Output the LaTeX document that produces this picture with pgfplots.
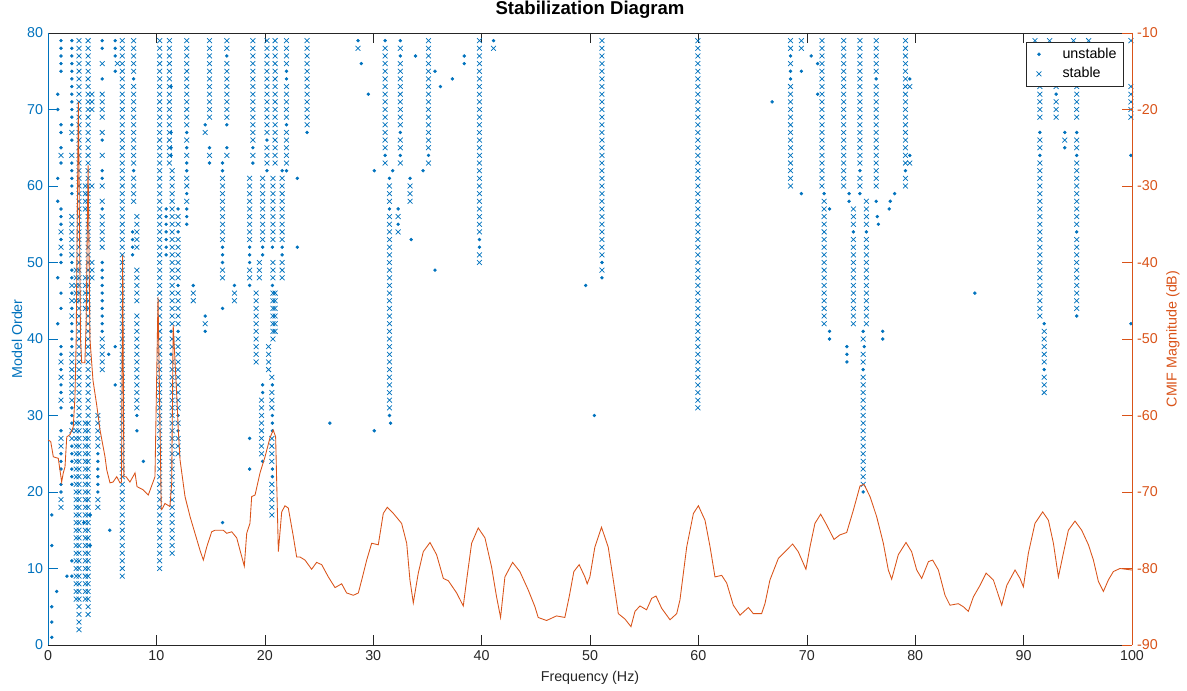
\documentclass[border=0pt]{standalone}
\usepackage{fontspec}
\setmainfont{Liberation Sans}
\usepackage{pgfplots}
\pgfplotsset{compat=1.18}
\definecolor{mblue}{RGB}{0,114,189}
\definecolor{morange}{RGB}{217,83,25}
\definecolor{mgray}{RGB}{38,38,38}
\pgfplotsset{mylegimg/.style={legend image code/.code={\path (-3.7pt,0pt) (16.3pt,0pt); \draw[mark repeat=2,mark phase=2,##1] plot coordinates {(0pt,0pt)(4pt,0pt)(8pt,0pt)};}}}
\begin{document}
\begin{tikzpicture}[font=\fontsize{10}{12}\selectfont]
\useasboundingbox (-33.6pt,-32.2pt) rectangle (797.3pt,451.5pt);
\begin{axis}[
  scale only axis, width=758.8pt, height=428.4pt,
  xmin=0, xmax=100, ymin=0, ymax=80,
  axis x line*=box, axis y line*=left,
  x axis line style={mgray}, y axis line style={mblue},
  xtick={0,10,...,100}, ytick={0,10,...,80},
  tick align=inside, major tick length=7pt,
  tick style={mgray},
  every y tick/.append style={mblue},
  /pgf/number format/assume math mode=true,
  xticklabel style={mgray, font=\fontsize{10}{12}\selectfont},
  yticklabel style={mblue, font=\fontsize{10}{12}\selectfont},
  xlabel={Frequency (Hz)},
  xlabel style={mgray, at={(axis description cs:0.5,0)}, anchor=center, yshift=-23pt},
  ylabel={Model Order},
  ylabel style={mblue, at={(axis description cs:0,0.5)}, anchor=center, yshift=21.7pt},
  title={Stabilization Diagram},
  title style={at={(axis description cs:0.5,1)}, anchor=center, yshift=10.5pt, font=\bfseries\fontsize{13}{15}\selectfont},
  legend style={at={(0.9926,0.9853)}, anchor=north east, draw=mgray, fill=white, font=\fontsize{10}{12}\selectfont, inner xsep=1pt, inner ysep=2pt, row sep=1pt, nodes={inner xsep=4pt}},
  legend cell align=left,
]
\addplot[only marks, mark=*, mark size=1pt, color=mblue, mylegimg] coordinates {
(0.35,1)(0.35,3)(0.35,5)(0.35,13)(0.35,17)(0.8,7)(1.75,9)
(1.2,20)(1.2,21)(1.2,23)(1.2,24)(1.2,25)(1.2,28)(1.2,31)(1.2,33)(1.2,34)(1.2,36)(1.2,38)(1.2,39)(1.2,44)(1.2,46)(1.2,50)(1.2,51)(1.2,53)(1.2,55)(1.2,56)(1.2,57)(1.2,63)(1.2,65)(1.2,67)(1.2,68)(1.2,75)(1.2,76)(1.2,77)(1.2,78)(1.2,79)
(0.9,42)(0.9,48)(0.9,58)(0.9,61)(0.9,70)(0.9,72)
(2.2,9)(2.2,11)(2.2,21)(2.2,22)(2.2,23)(2.2,24)(2.2,25)(2.2,26)(2.2,29)(2.2,30)(2.2,31)(2.2,39)(2.2,40)(2.2,41)(2.2,42)(2.2,44)(2.2,46)(2.2,48)(2.2,49)(2.2,50)(2.2,59)(2.2,60)(2.2,61)(2.2,62)(2.2,63)(2.2,66)(2.2,68)(2.2,69)(2.2,70)(2.2,71)(2.2,72)(2.2,73)(2.2,74)(2.2,75)(2.2,76)(2.2,77)(2.2,78)(2.2,79)
(3.3,16)(3.9,17)(3.9,13)
(4.6,20)(4.6,21)(4.6,22)(4.6,23)(4.6,24)(4.6,25)
(5.0,41)(5.0,42)(5.0,43)(5.0,44)(5.0,45)(5.0,46)(5.0,47)(5.0,48)(5.0,49)(5.0,50)(5.0,57)(5.0,61)(5.0,62)(5.0,66)(5.0,74)(5.0,78)(5.0,79)
(5.6,38)(5.7,15)(6.2,34)(6.2,39)(6.2,75)(6.2,77)(6.2,78)(6.2,79)
(7.8,51)(7.8,52)(7.8,53)(7.8,54)(7.9,62)(7.9,74)(8.2,28)(8.2,30)(8.8,24)
(10.9,51)(10.9,52)(10.9,53)(10.9,54)(10.9,55)(10.9,56)(10.9,57)
(11.35,38)(11.35,41)(11.35,64)(11.35,65)(11.35,67)(11.35,73)
(12.0,28)(12.0,30)(12.0,41)(12.0,47)(12.0,54)(12.0,57)
(12.8,55)(12.8,56)(12.8,57)(12.8,59)(12.8,62)(12.8,63)(12.8,65)(12.8,67)
(13.4,47)(14.5,41)(14.5,43)(14.5,68)(14.9,63)(14.9,65)
(16.1,16)(16.1,44)(16.1,50)(16.1,51)(16.1,52)(16.1,62)(16.1,63)(16.5,65)(16.5,68)(16.5,77)(17.2,47)
(18.9,63)(18.9,65)(18.6,23)(18.6,27)(18.6,47)(18.6,50)(18.6,51)(18.6,52)
(19.8,24)(19.8,33)(19.8,34)(19.8,51)(19.8,52)(20.2,62)(20.2,66)
(20.7,22)(20.7,23)(20.7,28)(20.7,29)(20.7,30)(20.7,34)(20.7,47)(20.7,52)
(21.6,51)(21.6,52)(21.6,62)(22.0,62)(22.0,68)(22.0,74)(22.0,75)(23.0,52)(23.0,61)(23.9,67)(26.0,29)
(28.6,79)(28.9,76)(29.55,72)(30.1,62)(30.1,28)(31.1,79)(31.1,64)(31.5,61)(31.5,57)(31.5,30)(31.6,29)(31.8,62)(32.5,79)(32.5,77)(32.5,67)(32.5,64)(32.3,57)(32.3,55)(33.4,61)(33.5,53)(33.9,77)(34.6,62)(35.1,64)(35.7,75)(36.2,73)(37.3,74)(38.4,77)(38.4,76)(35.7,49)(39.8,53)(39.8,52)(41.1,79)
(51.1,50)(51.1,48)(49.6,47)(50.4,30)
(66.8,71)(68.5,77)(68.5,75)(68.5,74)(69.5,75)(69.5,59)(70.4,77)(71.0,76)(71.0,72)(71.6,59)(72.1,57)(72.1,41)(72.1,40)(73.9,59)(73.9,58)(74.3,54)(73.7,39)(73.7,38)(73.7,37)(74.9,62)(74.9,59)(75.5,54)(75.2,41)(75.3,39)(75.2,36)(75.2,20)(76.4,74)(76.4,58)(76.5,56)(76.6,55)(77.0,41)(77.0,40)(79.5,74)(79.5,64)(79.1,62)(78.1,59)(77.7,58)(77.6,57)
(85.5,46)
(91.5,67)(91.5,64)(91.9,42)(91.9,36)(93.0,72)(93.8,67)(93.8,65)(94.9,67)(94.9,64)(94.9,54)(94.9,43)(99.9,64)(99.9,42)
};
\addlegendentry{unstable}
\addplot[only marks, mark=x, mark size=2.4pt, color=mblue, mark options={line width=0.5pt}, mylegimg] coordinates {
(1.2,18)(1.2,19)(1.2,26)(1.2,27)(1.2,32)(1.2,35)(1.2,37)(1.2,52)(1.2,54)(1.2,64)
(2.2,27)(2.2,28)(2.2,32)(2.2,33)(2.2,34)(2.2,35)(2.2,36)(2.2,37)(2.2,38)(2.2,43)(2.2,45)(2.2,47)(2.2,51)(2.2,52)(2.2,53)(2.2,54)(2.2,55)(2.2,56)(2.2,64)(2.2,67)
(2.86,2)(2.86,3)(2.86,4)(2.86,5)(2.86,6)(2.86,7)(2.86,8)(2.86,9)(2.86,10)(2.86,11)(2.86,12)(2.86,13)(2.86,14)(2.86,15)(2.86,16)(2.86,17)(2.86,18)(2.86,19)(2.86,20)(2.86,21)(2.86,22)(2.86,23)(2.86,24)(2.86,25)(2.86,26)(2.86,27)(2.86,28)(2.86,29)(2.86,30)(2.86,31)(2.86,32)(2.86,33)(2.86,34)(2.86,35)(2.86,36)(2.86,37)(2.86,38)(2.86,39)(2.86,40)(2.86,41)(2.86,42)(2.86,43)(2.86,44)(2.86,45)(2.86,46)(2.86,47)(2.86,48)(2.86,49)(2.86,50)(2.86,51)(2.86,52)(2.86,53)(2.86,54)(2.86,55)(2.86,56)(2.86,57)(2.86,58)(2.86,59)(2.86,60)(2.86,61)(2.86,62)(2.86,63)(2.86,64)(2.86,65)(2.86,66)(2.86,67)(2.86,68)(2.86,69)(2.86,70)(2.86,71)(2.86,72)(2.86,73)(2.86,74)(2.86,75)(2.86,76)(2.86,77)(2.86,78)(2.86,79)
(2.6,6)(2.6,7)(2.6,8)(2.6,9)(2.6,10)(2.6,11)(2.6,12)(2.6,13)(2.6,14)(2.6,15)(2.6,16)(2.6,17)(2.6,18)(2.6,19)(2.6,20)(2.6,21)(2.6,22)(2.6,23)(2.6,24)(2.6,25)(2.6,26)(2.6,27)(2.6,28)(2.6,29)(2.6,45)(2.6,46)(2.6,47)(2.6,48)(2.6,49)
(3.7,4)(3.7,5)(3.7,6)(3.7,7)(3.7,8)(3.7,9)(3.7,10)(3.7,11)(3.7,12)(3.7,13)(3.7,14)(3.7,15)(3.7,16)(3.7,17)(3.7,18)(3.7,19)(3.7,20)(3.7,21)(3.7,22)(3.7,23)(3.7,24)(3.7,25)(3.7,26)(3.7,27)(3.7,28)(3.7,29)(3.7,30)(3.7,31)(3.7,32)(3.7,33)(3.7,34)(3.7,35)(3.7,36)(3.7,37)(3.7,38)(3.7,39)(3.7,40)(3.7,41)(3.7,42)(3.7,43)(3.7,44)(3.7,45)(3.7,46)(3.7,47)(3.7,48)(3.7,49)(3.7,50)(3.7,51)(3.7,52)(3.7,53)(3.7,54)(3.7,55)(3.7,56)(3.7,57)(3.7,58)(3.7,59)(3.7,60)(3.7,61)(3.7,62)(3.7,63)(3.7,64)(3.7,65)(3.7,66)(3.7,67)(3.7,68)(3.7,69)(3.7,70)(3.7,71)(3.7,72)(3.7,73)(3.7,74)(3.7,75)(3.7,76)(3.7,77)(3.7,78)(3.7,79)
(3.45,6)(3.45,7)(3.45,8)(3.45,9)(3.45,10)(3.45,11)(3.45,12)(3.45,13)(3.45,14)(3.45,15)(3.45,16)(3.45,17)(3.45,18)(3.45,19)(3.45,20)(3.45,21)(3.45,22)(3.45,23)(3.45,24)(3.45,25)(3.45,26)(3.45,27)(3.45,28)(3.45,29)(3.45,44)(3.45,45)(3.45,46)(3.45,47)(3.45,48)(3.45,57)(3.45,58)(3.45,59)(3.45,60)
(4.05,48)(4.05,49)(4.05,50)(4.05,60)(4.05,70)(4.05,71)(4.05,72)
(5.0,36)(5.0,37)(5.0,38)(5.0,39)(5.0,40)(5.0,52)(5.0,53)(5.0,54)(5.0,55)(5.0,56)(5.0,58)(5.0,60)(5.0,64)(5.0,67)(5.0,69)(5.0,70)(5.0,71)(5.0,72)(5.0,76)
(4.6,18)(4.6,19)(4.6,26)(4.6,27)(4.6,28)(4.6,29)(4.6,30)
(6.85,9)(6.85,10)(6.85,11)(6.85,12)(6.85,13)(6.85,14)(6.85,15)(6.85,16)(6.85,17)(6.85,18)(6.85,19)(6.85,20)(6.85,21)(6.85,22)(6.85,23)(6.85,24)(6.85,25)(6.85,26)(6.85,27)(6.85,28)(6.85,29)(6.85,30)(6.85,31)(6.85,32)(6.85,33)(6.85,34)(6.85,35)(6.85,36)(6.85,37)(6.85,38)(6.85,39)(6.85,40)(6.85,41)(6.85,42)(6.85,43)(6.85,44)(6.85,45)(6.85,46)(6.85,47)(6.85,48)(6.85,49)(6.85,50)(6.85,51)(6.85,52)(6.85,53)(6.85,54)(6.85,55)(6.85,56)(6.85,57)(6.85,58)(6.85,59)(6.85,60)(6.85,61)(6.85,62)(6.85,63)(6.85,64)(6.85,65)(6.85,66)(6.85,67)(6.85,68)(6.85,69)(6.85,70)(6.85,71)(6.85,72)(6.85,73)(6.85,74)(6.85,75)(6.85,76)(6.85,77)(6.85,78)(6.85,79)
(6.4,76)
(7.9,58)(7.9,59)(7.9,60)(7.9,61)(7.9,63)(7.9,64)(7.9,65)(7.9,66)(7.9,67)(7.9,68)(7.9,69)(7.9,70)(7.9,71)(7.9,72)(7.9,73)(7.9,75)(7.9,76)(7.9,77)(7.9,78)(7.9,79)
(8.2,31)(8.2,32)(8.2,33)(8.2,34)(8.2,35)(8.2,36)(8.2,37)(8.2,38)(8.2,39)(8.2,40)(8.2,41)(8.2,42)(8.2,43)(8.2,45)(8.2,46)(8.2,47)(8.2,48)(8.2,49)(8.2,52)(8.2,53)(8.2,54)(8.2,55)(8.2,56)
(10.3,10)(10.3,11)(10.3,12)(10.3,13)(10.3,14)(10.3,15)(10.3,16)(10.3,17)(10.3,18)(10.3,19)(10.3,20)(10.3,21)(10.3,22)(10.3,23)(10.3,24)(10.3,25)(10.3,26)(10.3,27)(10.3,28)(10.3,29)(10.3,30)(10.3,31)(10.3,32)(10.3,33)(10.3,34)(10.3,35)(10.3,36)(10.3,37)(10.3,38)(10.3,39)(10.3,40)(10.3,41)(10.3,42)(10.3,43)(10.3,44)(10.3,45)(10.3,46)(10.3,47)(10.3,48)(10.3,49)(10.3,50)(10.3,51)(10.3,52)(10.3,53)(10.3,54)(10.3,55)(10.3,56)(10.3,57)(10.3,58)(10.3,59)(10.3,60)(10.3,61)(10.3,62)(10.3,63)(10.3,64)(10.3,65)(10.3,66)(10.3,67)(10.3,68)(10.3,69)(10.3,70)(10.3,71)(10.3,72)(10.3,73)(10.3,74)(10.3,75)(10.3,76)(10.3,77)(10.3,78)(10.3,79)
(11.2,63)(11.2,64)(11.2,65)(11.2,66)(11.2,67)(11.2,68)(11.2,69)(11.2,70)(11.2,71)(11.2,72)(11.2,73)(11.2,74)(11.2,75)(11.2,76)(11.2,77)(11.2,78)(11.2,79)
(11.45,12)(11.45,13)(11.45,14)(11.45,15)(11.45,16)(11.45,17)(11.45,18)(11.45,19)(11.45,20)(11.45,21)(11.45,22)(11.45,23)(11.45,24)(11.45,25)(11.45,26)(11.45,27)(11.45,28)(11.45,29)(11.45,30)(11.45,31)(11.45,32)(11.45,33)(11.45,34)(11.45,35)(11.45,36)(11.45,37)(11.45,39)(11.45,40)(11.45,42)(11.45,43)(11.45,44)(11.45,45)(11.45,46)(11.45,47)(11.45,48)(11.45,49)(11.45,50)(11.45,51)(11.45,52)(11.45,53)(11.45,54)(11.45,55)(11.45,56)(11.45,57)(11.45,58)(11.45,59)(11.45,60)(11.45,61)(11.45,62)
(12.0,25)(12.0,26)(12.0,27)(12.0,29)(12.0,31)(12.0,32)(12.0,33)(12.0,34)(12.0,35)(12.0,36)(12.0,37)(12.0,38)(12.0,39)(12.0,40)(12.0,42)(12.0,43)(12.0,44)(12.0,45)(12.0,46)(12.0,48)(12.0,49)(12.0,50)(12.0,51)(12.0,52)(12.0,53)(12.0,55)(12.0,56)
(12.8,58)(12.8,60)(12.8,61)(12.8,64)(12.8,66)(12.8,68)(12.8,69)(12.8,70)(12.8,71)(12.8,72)(12.8,73)(12.8,74)(12.8,75)(12.8,76)(12.8,77)(12.8,78)(12.8,79)
(13.4,45)(13.4,46)(14.5,42)(14.5,67)
(14.9,64)(14.9,69)(14.9,70)(14.9,71)(14.9,72)(14.9,73)(14.9,74)(14.9,75)(14.9,76)(14.9,77)(14.9,78)(14.9,79)
(16.1,48)(16.1,49)(16.1,53)(16.1,54)(16.1,55)(16.1,56)(16.1,57)(16.1,58)(16.1,59)(16.1,60)(16.1,61)
(16.5,64)(16.5,69)(16.5,70)(16.5,71)(16.5,72)(16.5,73)(16.5,74)(16.5,75)(16.5,76)(16.5,78)(16.5,79)
(17.2,45)(17.2,46)
(18.9,64)(18.9,66)(18.9,67)(18.9,68)(18.9,69)(18.9,70)(18.9,71)(18.9,72)(18.9,73)(18.9,74)(18.9,75)(18.9,76)(18.9,77)(18.9,78)(18.9,79)
(18.6,48)(18.6,49)(18.6,53)(18.6,54)(18.6,55)(18.6,56)(18.6,57)(18.6,58)(18.6,59)(18.6,60)(18.6,61)
(19.2,37)(19.2,38)(19.2,39)(19.2,40)(19.2,41)(19.2,42)(19.2,43)(19.2,44)(19.2,45)(19.2,46)
(19.8,53)(19.8,54)(19.8,55)(19.8,56)(19.8,57)(19.8,58)(19.8,59)(19.8,60)(19.8,61)(19.5,48)(19.5,49)(19.5,50)
(19.7,25)(19.7,26)(19.7,27)(19.7,28)(19.7,29)(19.7,30)(19.7,31)(19.7,32)
(20.2,63)(20.2,64)(20.2,65)(20.2,67)(20.2,68)(20.2,69)(20.2,70)(20.2,71)(20.2,72)(20.2,73)(20.2,74)(20.2,75)(20.2,76)(20.2,77)(20.2,78)(20.2,79)
(20.75,40)(20.75,41)(20.75,42)(20.75,43)(20.75,44)(20.75,45)(20.75,46)(20.75,48)(20.75,49)(20.75,50)(20.75,53)(20.75,54)(20.75,55)(20.75,56)(20.75,57)(20.75,58)(20.75,59)(20.75,60)(20.75,61)
(20.35,36)(20.35,37)(20.35,38)(20.35,39)
(20.65,17)(20.65,18)(20.65,19)(20.65,20)(20.65,21)(20.65,24)(20.65,25)(20.65,26)(20.65,27)(20.65,31)(20.65,32)(20.65,33)(20.65,35)
(20.95,41)(20.95,42)(20.95,43)(20.95,44)(20.95,45)(20.95,46)(20.95,63)(20.95,64)(20.95,65)(20.95,66)(20.95,67)(20.95,68)(20.95,69)(20.95,70)(20.95,71)(20.95,72)(20.95,73)(20.95,74)(20.95,75)(20.95,76)(20.95,77)(20.95,78)(20.95,79)
(21.6,48)(21.6,49)(21.6,50)(21.6,53)(21.6,54)(21.6,55)(21.6,56)(21.6,57)(21.6,58)(21.6,59)(21.6,60)(21.6,61)
(22.0,63)(22.0,64)(22.0,65)(22.0,66)(22.0,67)(22.0,69)(22.0,70)(22.0,71)(22.0,72)(22.0,73)(22.0,76)(22.0,77)(22.0,78)(22.0,79)
(23.9,68)(23.9,69)(23.9,70)(23.9,71)(23.9,72)(23.9,73)(23.9,74)(23.9,75)(23.9,76)(23.9,77)(23.9,78)(23.9,79)
(28.6,78)
(31.1,63)(31.1,65)(31.1,66)(31.1,67)(31.1,68)(31.1,69)(31.1,70)(31.1,71)(31.1,72)(31.1,73)(31.1,74)(31.1,75)(31.1,76)(31.1,77)(31.1,78)
(31.5,31)(31.5,32)(31.5,33)(31.5,34)(31.5,35)(31.5,36)(31.5,37)(31.5,38)(31.5,39)(31.5,40)(31.5,41)(31.5,42)(31.5,43)(31.5,44)(31.5,45)(31.5,46)(31.5,47)(31.5,48)(31.5,49)(31.5,50)(31.5,51)(31.5,52)(31.5,53)(31.5,54)(31.5,55)(31.5,56)(31.5,58)(31.5,59)(31.5,60)
(32.5,63)(32.5,65)(32.5,66)(32.5,68)(32.5,69)(32.5,70)(32.5,71)(32.5,72)(32.5,73)(32.5,74)(32.5,75)(32.5,76)(32.5,78)
(32.3,54)(32.3,56)(33.4,58)(33.4,59)(33.4,60)
(35.1,63)(35.1,65)(35.1,66)(35.1,67)(35.1,68)(35.1,69)(35.1,70)(35.1,71)(35.1,72)(35.1,73)(35.1,74)(35.1,75)(35.1,76)(35.1,77)(35.1,78)(35.1,79)
(39.8,50)(39.8,51)(39.8,54)(39.8,55)(39.8,56)(39.8,57)(39.8,58)(39.8,59)(39.8,60)(39.8,61)(39.8,62)(39.8,63)(39.8,64)(39.8,65)(39.8,66)(39.8,67)(39.8,68)(39.8,69)(39.8,70)(39.8,71)(39.8,72)(39.8,73)(39.8,74)(39.8,75)(39.8,76)(39.8,77)(39.8,78)(39.8,79)
(41.1,78)
(51.1,49)(51.1,51)(51.1,52)(51.1,53)(51.1,54)(51.1,55)(51.1,56)(51.1,57)(51.1,58)(51.1,59)(51.1,60)(51.1,61)(51.1,62)(51.1,63)(51.1,64)(51.1,65)(51.1,66)(51.1,67)(51.1,68)(51.1,69)(51.1,70)(51.1,71)(51.1,72)(51.1,73)(51.1,74)(51.1,75)(51.1,76)(51.1,77)(51.1,78)(51.1,79)
(59.95,31)(59.95,32)(59.95,33)(59.95,34)(59.95,35)(59.95,36)(59.95,37)(59.95,38)(59.95,39)(59.95,40)(59.95,41)(59.95,42)(59.95,43)(59.95,44)(59.95,45)(59.95,46)(59.95,47)(59.95,48)(59.95,49)(59.95,50)(59.95,51)(59.95,52)(59.95,53)(59.95,54)(59.95,55)(59.95,56)(59.95,57)(59.95,58)(59.95,59)(59.95,60)(59.95,61)(59.95,62)(59.95,63)(59.95,64)(59.95,65)(59.95,66)(59.95,67)(59.95,68)(59.95,69)(59.95,70)(59.95,71)(59.95,72)(59.95,73)(59.95,74)(59.95,75)(59.95,76)(59.95,77)(59.95,78)(59.95,79)
(68.5,60)(68.5,61)(68.5,62)(68.5,63)(68.5,64)(68.5,65)(68.5,66)(68.5,67)(68.5,68)(68.5,69)(68.5,70)(68.5,71)(68.5,72)(68.5,73)(68.5,76)(68.5,78)(68.5,79)
(69.5,78)(69.5,79)
(71.4,60)(71.4,61)(71.4,62)(71.4,63)(71.4,64)(71.4,65)(71.4,66)(71.4,67)(71.4,68)(71.4,69)(71.4,70)(71.4,71)(71.4,72)(71.4,73)(71.4,74)(71.4,75)(71.4,76)(71.4,77)(71.4,78)(71.4,79)
(71.6,42)(71.6,43)(71.6,44)(71.6,45)(71.6,46)(71.6,47)(71.6,48)(71.6,49)(71.6,50)(71.6,51)(71.6,52)(71.6,53)(71.6,54)(71.6,55)(71.6,56)(71.6,57)(71.6,58)
(73.4,60)(73.4,61)(73.4,62)(73.4,63)(73.4,64)(73.4,65)(73.4,66)(73.4,67)(73.4,68)(73.4,69)(73.4,70)(73.4,71)(73.4,72)(73.4,73)(73.4,74)(73.4,75)(73.4,76)(73.4,77)(73.4,78)(73.4,79)
(74.3,42)(74.3,43)(74.3,44)(74.3,45)(74.3,46)(74.3,47)(74.3,48)(74.3,49)(74.3,50)(74.3,51)(74.3,52)(74.3,53)(74.3,55)(74.3,56)(74.3,57)
(74.9,60)(74.9,61)(74.9,63)(74.9,64)(74.9,65)(74.9,66)(74.9,67)(74.9,68)(74.9,69)(74.9,70)(74.9,71)(74.9,72)(74.9,73)(74.9,74)(74.9,75)(74.9,76)(74.9,77)(74.9,78)(74.9,79)
(75.5,42)(75.5,43)(75.5,44)(75.5,45)(75.5,46)(75.5,47)(75.5,48)(75.5,49)(75.5,50)(75.5,51)(75.5,52)(75.5,53)(75.5,55)(75.5,56)(75.5,57)(75.5,58)
(75.2,21)(75.2,22)(75.2,23)(75.2,24)(75.2,25)(75.2,26)(75.2,27)(75.2,28)(75.2,29)(75.2,30)(75.2,31)(75.2,32)(75.2,33)(75.2,34)(75.2,35)(75.2,37)(75.2,38)(75.2,40)
(76.4,60)(76.4,61)(76.4,62)(76.4,63)(76.4,64)(76.4,65)(76.4,66)(76.4,67)(76.4,68)(76.4,69)(76.4,70)(76.4,71)(76.4,72)(76.4,73)(76.4,75)(76.4,76)(76.4,77)(76.4,78)(76.4,79)
(79.1,60)(79.1,61)(79.1,63)(79.1,64)(79.1,65)(79.1,66)(79.1,67)(79.1,68)(79.1,69)(79.1,70)(79.1,71)(79.1,72)(79.1,73)(79.1,74)(79.1,75)(79.1,76)(79.1,77)(79.1,78)(79.1,79)
(79.5,63)(79.5,73)
(91.05,79)
(91.5,43)(91.5,44)(91.5,45)(91.5,46)(91.5,47)(91.5,48)(91.5,49)(91.5,50)(91.5,51)(91.5,52)(91.5,53)(91.5,54)(91.5,55)(91.5,56)(91.5,57)(91.5,58)(91.5,59)(91.5,60)(91.5,61)(91.5,62)(91.5,63)(91.5,65)(91.5,66)(91.5,69)(91.5,70)(91.5,71)(91.5,72)(91.5,73)
(91.9,33)(91.9,34)(91.9,35)(91.9,37)(91.9,38)(91.9,39)(91.9,40)(91.9,41)
(92.4,79)(93.0,69)(93.0,70)(93.0,71)(93.0,73)(93.8,66)(94.6,79)
(94.9,44)(94.9,45)(94.9,46)(94.9,47)(94.9,48)(94.9,49)(94.9,50)(94.9,51)(94.9,52)(94.9,53)(94.9,55)(94.9,56)(94.9,57)(94.9,58)(94.9,59)(94.9,60)(94.9,61)(94.9,62)(94.9,63)(94.9,65)(94.9,66)(94.9,69)(94.9,70)(94.9,71)(94.9,72)(94.9,73)
(96.0,79)
(99.9,69)(99.9,70)(99.9,71)(99.9,72)(99.9,73)(99.9,79)
};
\addlegendentry{stable}
\end{axis}
\begin{axis}[
  scale only axis, width=758.8pt, height=428.4pt,
  xmin=0, xmax=100, ymin=-90, ymax=-10,
  axis x line=none, axis y line*=right,
  y axis line style={morange},
  ytick={-90,-80,...,-10},
  tick align=inside, major tick length=7pt,
  tick style={morange},
  /pgf/number format/assume math mode=true,
  yticklabel style={morange, font=\fontsize{10}{12}\selectfont},
  ylabel={CMIF Magnitude (dB)},
  ylabel style={morange, at={(axis description cs:1,0.5)}, anchor=center, yshift=-28.7pt},
]
\addplot[color=morange, line width=0.6pt] coordinates {
(0,-63.2)(0.25,-63.4)(0.49,-65.4)(0.95,-65.6)(1.26,-68.7)(1.41,-67.5)(1.57,-66.7)(1.73,-62.8)(2.03,-62.5)(2.33,-61.5)(2.49,-57.5)(2.6,-50)(2.8,-19)(3.0,-50)(3.11,-53.1)(3.4,-53.1)(3.52,-48)(3.7,-27.3)(3.87,-50)(4.15,-55.4)(4.49,-58.6)(4.8,-61.9)(5.26,-65.4)(5.42,-67.1)(5.72,-68.8)(6.0,-68.7)(6.34,-68.0)(6.64,-68.8)(6.78,-68.7)(6.89,-39.0)(7.0,-68.0)(7.2,-68.0)(7.56,-68.7)(8.03,-67.5)(8.21,-69.3)(8.49,-69.5)(8.76,-69.7)(9.25,-70.4)(9.87,-68.0)(10.15,-44.5)(10.45,-72.3)(10.58,-72.1)(10.79,-71.5)(11.25,-71.9)(11.41,-68.8)(11.55,-48.2)(11.9,-58)(12.02,-61.9)(12.18,-65.8)(12.64,-70.6)(13.1,-73.2)(13.56,-75.4)(14.02,-77.6)(14.33,-78.9)(14.64,-77.2)(15.1,-75.2)(15.41,-75.0)(16.17,-75.0)(16.49,-75.4)(16.95,-75.2)(17.41,-76.0)(17.71,-77.6)(18.11,-79.7)(18.33,-75.4)(18.63,-74.1)(18.79,-70.6)(19.1,-70.4)(19.56,-67.5)(20.02,-65.4)(20.48,-62.9)(20.78,-61.9)(21.0,-62.8)(21.25,-77.8)(21.56,-72.6)(21.86,-71.8)(22.17,-72.1)(22.63,-75.8)(22.94,-78.5)(23.25,-78.5)(23.71,-78.9)(24.32,-80.1)(24.78,-79.2)(25.25,-79.5)(25.86,-81.1)(26.48,-82.5)(27.09,-82.0)(27.55,-83.2)(28.17,-83.5)(28.63,-83.2)(28.94,-81.5)(29.4,-78.9)(29.86,-76.7)(30.47,-76.9)(30.93,-72.8)(31.3,-72.0)(31.86,-72.8)(32.62,-74.1)(33.09,-76.7)(33.39,-81.5)(33.7,-84.5)(34.16,-80.6)(34.62,-77.8)(35.24,-76.6)(35.85,-78.2)(36.47,-81.3)(36.93,-81.6)(37.7,-83.2)(38.31,-84.9)(38.62,-81.5)(39.08,-76.7)(39.69,-74.7)(40.31,-76.0)(40.92,-79.8)(41.38,-83.7)(41.75,-86.4)(42.15,-81.1)(42.86,-79.2)(43.53,-80.4)(44.3,-82.8)(44.92,-85.0)(45.22,-86.4)(45.99,-86.8)(46.91,-86.2)(47.68,-86.4)(48.08,-83.7)(48.51,-80.4)(49.0,-79.5)(49.53,-81.1)(49.74,-82.0)(49.99,-81.1)(50.45,-77.2)(51.06,-74.6)(51.68,-77.2)(52.15,-81.5)(52.61,-85.9)(53.22,-86.6)(53.78,-87.6)(54.15,-85.6)(54.61,-84.9)(55.22,-85.4)(55.69,-83.9)(56.09,-83.6)(56.61,-85.2)(57.38,-86.7)(58.0,-85.9)(58.3,-84.1)(58.92,-77.2)(59.54,-72.8)(60.0,-71.8)(60.61,-73.7)(61.08,-77.2)(61.53,-81.1)(62.15,-80.9)(62.61,-81.9)(63.22,-84.8)(63.84,-86.1)(64.61,-85.1)(65.06,-85.9)(65.83,-85.9)(66.14,-84.6)(66.6,-81.5)(67.37,-78.7)(67.99,-77.8)(68.69,-76.8)(69.21,-77.8)(69.92,-80.1)(70.29,-77.2)(70.75,-74.1)(71.28,-72.9)(71.83,-74.3)(72.51,-76.2)(73.06,-75.6)(73.68,-75.3)(74.29,-72.4)(74.91,-69.2)(75.28,-69.0)(75.83,-70.6)(76.44,-73.2)(77.06,-76.7)(77.52,-80.2)(77.83,-81.4)(78.44,-78.2)(79.15,-76.6)(79.67,-77.8)(80.14,-80.2)(80.6,-81.3)(81.22,-79.1)(81.61,-78.9)(82.14,-80.2)(82.75,-83.5)(83.21,-84.8)(83.98,-84.6)(84.44,-85.0)(84.9,-85.6)(85.37,-83.7)(85.98,-82.2)(86.54,-80.6)(87.21,-81.5)(87.68,-83.5)(87.98,-84.8)(88.45,-82.2)(89.21,-80.2)(89.67,-81.3)(89.98,-82.4)(90.44,-78.0)(91.05,-74.1)(91.76,-72.6)(92.29,-73.7)(92.75,-76.7)(93.21,-81.1)(93.67,-78.0)(94.13,-75.0)(94.74,-73.8)(95.36,-75.0)(95.98,-76.9)(96.44,-78.9)(96.9,-81.7)(97.36,-83.0)(97.82,-81.5)(98.28,-80.4)(98.89,-80.0)(100,-80.2)
};
\end{axis}
\end{tikzpicture}
\end{document}
